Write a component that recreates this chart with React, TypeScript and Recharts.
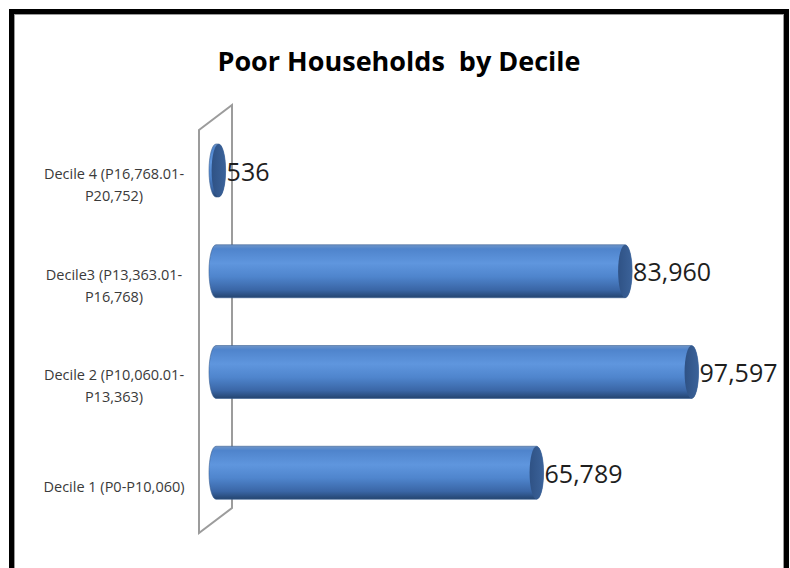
import React from "react";
import { BarChart, Bar, XAxis, YAxis, LabelList } from "recharts";

const categories = [
  "Decile 4 (P16,768.01-\nP20,752)",
  "Decile3 (P13,363.01-\nP16,768)",
  "Decile 2 (P10,060.01-\nP13,363)",
  "Decile 1 (P0-P10,060)",
];
const households = [536, 83960, 97597, 65789];
const title = "Poor Households  by Decile";

const data = categories.map((name, i) => ({ name, value: households[i] }));

const W = 790;
const H = 568;
const MARGIN = { top: 120, right: 38, bottom: 45, left: 16 };
const YAXIS_W = 200;
const PLOT_LEFT = MARGIN.left + YAXIS_W;
const PLOT_TOP = MARGIN.top;
const PLOT_BOTTOM = H - MARGIN.bottom;
const RX = 7;
const FONT = "'Open Sans', 'Noto Sans', sans-serif";

const Cylinder = (props: any) => {
  const { x, y, width, height } = props;
  const w = Math.max(width, 0);
  const ry = height / 2;
  const d = `M ${x},${y} L ${x + w},${y} A ${RX} ${ry} 0 0 1 ${x + w},${y + height} L ${x},${y + height} A ${RX} ${ry} 0 0 1 ${x},${y} Z`;
  return (
    <g>
      <path d={d} fill="url(#cylBody)" stroke="#3a5f92" strokeWidth={0.6} />
      <ellipse cx={x + w} cy={y + ry} rx={RX} ry={ry} fill="url(#cylCap)" />
    </g>
  );
};

const CategoryTick = (props: any) => {
  const { y, payload } = props;
  const lines: string[] = String(payload.value).split("\n");
  const cy = y + 14;
  const lh = 22;
  const start = cy - ((lines.length - 1) * lh) / 2;
  return (
    <g>
      {lines.map((ln, i) => (
        <text
          key={i}
          x={114}
          y={start + i * lh}
          textAnchor="middle"
          dominantBaseline="central"
          fontFamily={FONT}
          fontSize={14.5}
          fill="#3a3a3a"
        >
          {ln}
        </text>
      ))}
    </g>
  );
};

const ValueLabel = (props: any) => {
  const { x, y, width, height, value } = props;
  return (
    <text
      x={x + Math.max(width, 0) + RX + 1}
      y={y + height / 2}
      dominantBaseline="central"
      fontFamily={FONT}
      fontSize={25}
      fill="#1e1e1e"
    >
      {Number(value).toLocaleString("en-US")}
    </text>
  );
};

export default function App() {
  const wallDx = 33;
  const wallDy = -25;
  const wallLeft = PLOT_LEFT - 17;
  const wallBottom = PLOT_BOTTOM + 10;
  const wallTop = PLOT_TOP + 10;
  const wall = [
    [wallLeft, wallTop],
    [wallLeft + wallDx, wallTop + wallDy],
    [wallLeft + wallDx, wallBottom + wallDy],
    [wallLeft, wallBottom],
  ]
    .map((p) => p.join(","))
    .join(" ");
  return (
    <div style={{ position: "absolute", left: 0, top: 0, width: W, height: H, overflow: "hidden", background: "#ffffff" }}>
      <svg width={W} height={H} style={{ position: "absolute", left: 0, top: 0 }}>
        <rect x={11.5} y={11.5} width={775} height={600} fill="#ffffff" stroke="#000000" strokeWidth={5} />
        <rect x={14.5} y={14.5} width={769} height={600} fill="none" stroke="#9a9a9a" strokeWidth={1} />
        <polygon points={wall} fill="#ffffff" stroke="#9c9c9c" strokeWidth={2} />
        <text x={399} y={71} textAnchor="middle" fontFamily={FONT} fontWeight={700} fontSize={27} fill="#000000" style={{ whiteSpace: "pre" }}>
          {title}
        </text>
      </svg>
      <div style={{ position: "absolute", left: 0, top: 0 }}>
        <BarChart width={W} height={H} data={data} layout="vertical" margin={MARGIN}>
          <defs>
            <linearGradient id="cylBody" x1="0" y1="0" x2="0" y2="1">
              <stop offset="0%" stopColor="#6f95c8" />
              <stop offset="8%" stopColor="#4f84cc" />
              <stop offset="35%" stopColor="#5f96de" />
              <stop offset="60%" stopColor="#4f85cd" />
              <stop offset="85%" stopColor="#3a66a6" />
              <stop offset="100%" stopColor="#24446f" />
            </linearGradient>
            <linearGradient id="cylCap" x1="0" y1="0" x2="1" y2="0">
              <stop offset="0%" stopColor="#2f5285" />
              <stop offset="100%" stopColor="#3b6299" />
            </linearGradient>
          </defs>
          <XAxis type="number" domain={[0, 110000]} hide />
          <YAxis
            type="category"
            dataKey="name"
            width={YAXIS_W}
            axisLine={false}
            tickLine={false}
            tick={<CategoryTick />}
            interval={0}
          />
          <Bar dataKey="value" barSize={53} shape={<Cylinder />} isAnimationActive={false}>
            <LabelList dataKey="value" content={<ValueLabel />} />
          </Bar>
        </BarChart>
      </div>
    </div>
  );
}
